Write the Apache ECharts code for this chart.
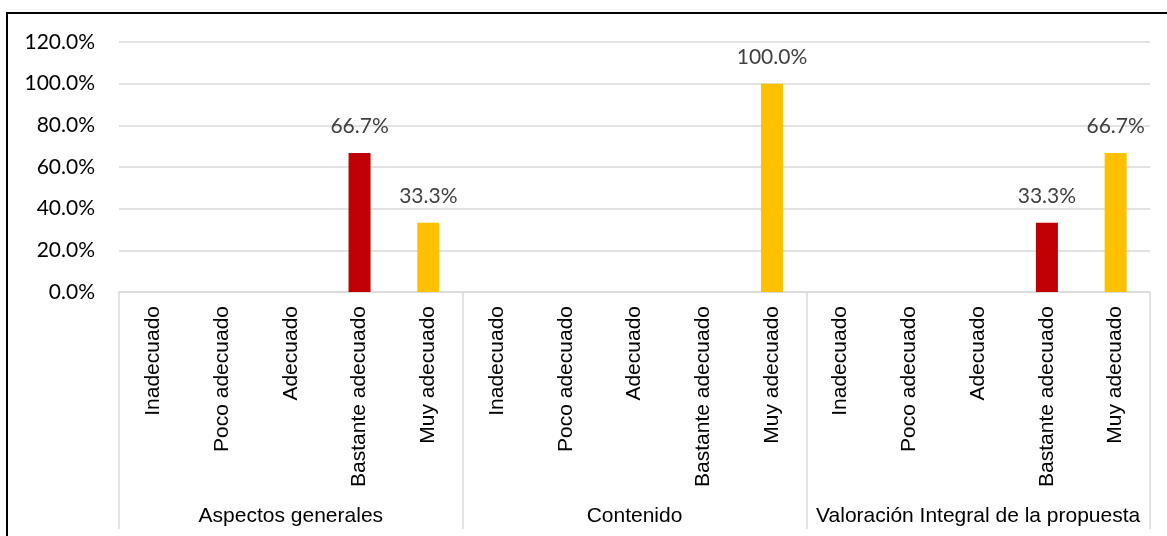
<!DOCTYPE html>
<html>
<head>
<meta charset="utf-8">
<script src="https://cdn.jsdelivr.net/npm/echarts@6/dist/echarts.min.js"></script>
<style>
  html, body { margin: 0; padding: 0; background: #fff; }
  #chart { width: 1167px; height: 536px; }
  #frame {
    position: absolute; left: 6px; top: 12px; right: 0; bottom: 0;
    border-left: 2px solid #000; border-top: 2px solid #000;
    pointer-events: none;
  }
</style>
</head>
<body>
<div id="chart"></div>
<div id="frame"></div>
<script>
// grupos (nivel superior del eje)
const groups = ['Aspectos generales', 'Contenido', 'Valoración Integral de la propuesta']
// categorías (nivel inferior)
const levels = ['Inadecuado', 'Poco adecuado', 'Adecuado', 'Bastante adecuado', 'Muy adecuado']
// valores por grupo (proporción)
const values = [
  [null, null, null, 0.667, 0.333],
  [null, null, null, null, 1.0],
  [null, null, null, 0.333, 0.667]
]
const levelColors = ['#4472c4', '#ed7d31', '#a5a5a5', '#c00000', '#ffc000']
const yTicks = { min: 0, max: 1.2, step: 0.2 }

const categories = []
const barData = []
groups.forEach((g, gi) => {
  levels.forEach((l, li) => {
    categories.push(l)
    barData.push({
      value: values[gi][li],
      itemStyle: { color: levelColors[li] }
    })
  })
})

const pct = v => (v * 100).toFixed(1) + '%'

const chart = echarts.init(document.getElementById('chart'))
chart.setOption({
  animation: false,
  grid: { left: 119, right: 17, top: 42, bottom: 244 },
  xAxis: [{
    type: 'category',
    data: categories,
    axisLine: { lineStyle: { color: '#d9d9d9', width: 1.5 } },
    axisTick: { show: false },
    axisLabel: {
      interval: 0,
      rotate: 90,
      margin: 14,
      color: '#000',
      fontFamily: 'Liberation Sans, Arial',
      fontSize: 21
    }
  }, {
    type: 'category',
    data: groups,
    position: 'bottom',
    axisLine: { show: false },
    axisTick: {
      show: true,
      interval: 0,
      length: 237,
      lineStyle: { color: '#d9d9d9', width: 1.5 }
    },
    axisLabel: {
      interval: 0,
      margin: 214,
      color: '#000',
      fontFamily: 'Liberation Sans, Arial',
      fontSize: 21
    }
  }],
  yAxis: {
    type: 'value',
    min: yTicks.min,
    max: yTicks.max,
    interval: yTicks.step,
    axisLine: { show: false },
    axisTick: { show: false },
    splitLine: { lineStyle: { color: '#d9d9d9', width: 1.5 } },
    axisLabel: {
      margin: 24,
      color: '#000',
      fontFamily: 'Lato',
      fontSize: 21,
      formatter: pct
    }
  },
  series: [{
    type: 'bar',
    xAxisIndex: 0,
    data: barData,
    barWidth: 22,
    label: {
      show: true,
      position: 'top',
      distance: 16,
      color: '#404040',
      fontFamily: 'Lato',
      fontSize: 21,
      formatter: p => pct(p.value)
    }
  }]
})
</script>
</body>
</html>
